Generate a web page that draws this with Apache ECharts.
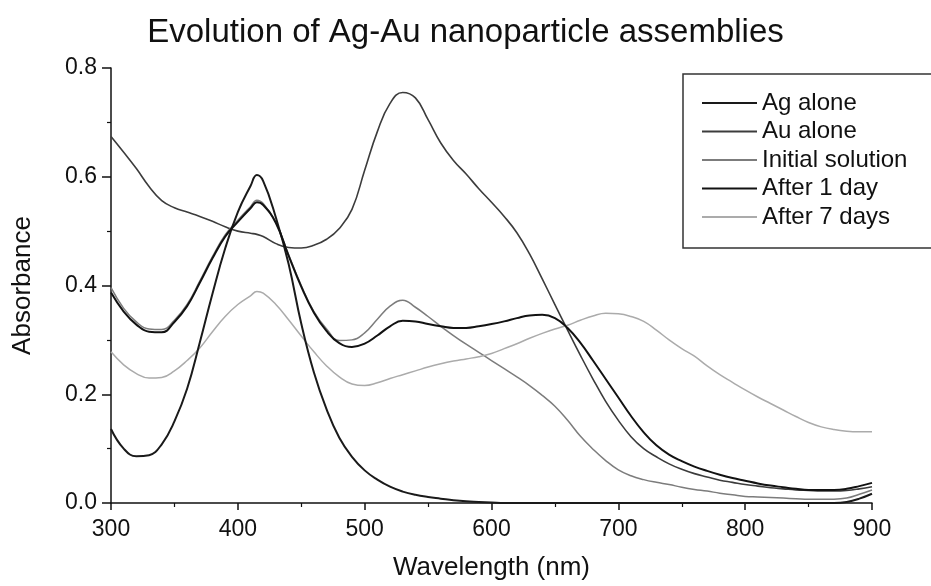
<!DOCTYPE html>
<html><head><meta charset="utf-8">
<script src="https://cdn.jsdelivr.net/npm/echarts@6/dist/echarts.min.js"></script>
<style>html,body{margin:0;padding:0;background:#fff}#c{width:931px;height:586px}</style>
</head><body><div id="c"></div>
<script>
const wavelengths = [300,310,320,330,340,350,360,370,380,390,400,410,415,420,430,440,450,460,470,480,490,500,510,520,530,540,550,560,570,580,590,600,610,620,630,640,650,660,670,680,690,700,710,720,730,740,750,760,770,780,790,800,810,820,830,840,850,860,870,880,890,900];
const agAlone = [0.136,0.100,0.086,0.088,0.108,0.150,0.210,0.295,0.385,0.468,0.535,0.583,0.603,0.592,0.525,0.440,0.330,0.240,0.172,0.120,0.085,0.060,0.043,0.030,0.021,0.015,0.011,0.008,0.005,0.003,0.002,0.001,0,0,0,0,0,0,0,0,0,0,0,0,0,0,0,0,0,0,0,0,0,0,0,0,0,0,0,0.002,0.008,0.017];
const auAlone = [0.674,0.645,0.615,0.582,0.556,0.543,0.535,0.527,0.518,0.508,0.500,0.496,0.494,0.490,0.477,0.470,0.469,0.474,0.485,0.505,0.540,0.612,0.683,0.735,0.755,0.745,0.705,0.662,0.630,0.605,0.578,0.553,0.527,0.497,0.458,0.412,0.365,0.318,0.272,0.228,0.187,0.152,0.122,0.100,0.085,0.072,0.062,0.054,0.048,0.042,0.038,0.034,0.031,0.028,0.026,0.024,0.023,0.022,0.022,0.023,0.026,0.030];
const initialSolution = [0.396,0.358,0.333,0.320,0.319,0.336,0.365,0.408,0.453,0.493,0.520,0.545,0.557,0.551,0.516,0.457,0.400,0.352,0.320,0.299,0.300,0.313,0.338,0.362,0.373,0.360,0.343,0.325,0.308,0.292,0.277,0.262,0.247,0.232,0.216,0.198,0.178,0.152,0.123,0.099,0.078,0.061,0.050,0.043,0.038,0.034,0.029,0.025,0.022,0.018,0.015,0.012,0.011,0.010,0.009,0.008,0.007,0.007,0.007,0.009,0.016,0.024];
const after1Day = [0.387,0.352,0.328,0.315,0.314,0.333,0.362,0.405,0.450,0.490,0.517,0.542,0.553,0.548,0.515,0.455,0.398,0.350,0.316,0.294,0.287,0.293,0.308,0.325,0.335,0.334,0.329,0.325,0.322,0.322,0.325,0.329,0.334,0.340,0.345,0.346,0.340,0.322,0.295,0.262,0.228,0.194,0.160,0.130,0.106,0.089,0.077,0.067,0.059,0.052,0.046,0.041,0.036,0.032,0.029,0.026,0.024,0.024,0.024,0.026,0.031,0.037];
const after7Days = [0.278,0.254,0.238,0.230,0.231,0.243,0.262,0.285,0.315,0.343,0.365,0.381,0.389,0.386,0.365,0.337,0.307,0.278,0.252,0.232,0.219,0.216,0.221,0.229,0.236,0.243,0.250,0.256,0.261,0.265,0.269,0.275,0.284,0.293,0.303,0.312,0.320,0.327,0.336,0.344,0.349,0.348,0.343,0.334,0.318,0.300,0.284,0.270,0.252,0.236,0.222,0.208,0.195,0.183,0.171,0.159,0.148,0.140,0.135,0.132,0.131,0.131];
const seriesNames = ['Ag alone','Au alone','Initial solution','After 1 day','After 7 days'];
const titleText = 'Evolution of Ag-Au nanoparticle assemblies';
const xAxisName = 'Wavelength (nm)';
const yAxisName = 'Absorbance';

const FONT = '"Liberation Sans", Arial, sans-serif';
const seriesData = [agAlone, auAlone, initialSolution, after1Day, after7Days];
const colors = ['#1a1a1a', '#3c3c3c', '#7c7c7c', '#121212', '#ababab'];
const widths = [2, 1.6, 1.5, 2, 1.5];

const chart = echarts.init(document.getElementById('c'), null, {renderer: 'canvas'});
chart.setOption({
  animation: false,
  backgroundColor: '#fff',
  textStyle: {fontFamily: FONT},
  title: {
    text: titleText,
    left: 'center',
    top: 16,
    padding: [0, 36, 0, 5],
    textStyle: {fontSize: 33, fontWeight: 'normal', color: '#111', fontFamily: FONT}
  },
  legend: {
    orient: 'vertical',
    left: 683,
    top: 74,
    padding: [17, 60, 19, 18],
    itemWidth: 55,
    itemHeight: 14,
    itemGap: 4.5,
    itemTextGap: 8,
    borderColor: '#333',
    borderWidth: 1.5,
    itemStyle: {opacity: 0},
    textStyle: {fontSize: 24, color: '#111', lineHeight: 24, fontFamily: FONT},
    data: seriesNames
  },
  grid: {left: 111, right: 59, top: 68, bottom: 82, containLabel: false},
  xAxis: {
    type: 'value', min: 300, max: 900, interval: 100,
    name: xAxisName, nameLocation: 'middle', nameGap: 52,
    nameTextStyle: {fontSize: 26, color: '#111', fontFamily: FONT},
    axisLine: {show: true, onZero: false, lineStyle: {color: '#111', width: 1.5}},
    axisTick: {show: true, inside: false, length: 7, lineStyle: {color: '#111', width: 1.5}},
    minorTick: {show: true, splitNumber: 2, length: 4, lineStyle: {color: '#111', width: 1.2}},
    axisLabel: {fontSize: 23, color: '#111', margin: 15, fontFamily: FONT},
    splitLine: {show: false}
  },
  yAxis: {
    type: 'value', min: 0, max: 0.8, interval: 0.2,
    name: yAxisName, nameLocation: 'middle', nameGap: 75, nameRotate: 90,
    nameTextStyle: {fontSize: 26, color: '#111', fontFamily: FONT},
    axisLine: {show: true, onZero: false, lineStyle: {color: '#111', width: 1.5}},
    axisTick: {show: true, inside: false, length: 9, lineStyle: {color: '#111', width: 1.5}},
    minorTick: {show: true, splitNumber: 2, length: 4, lineStyle: {color: '#111', width: 1.2}},
    axisLabel: {fontSize: 23, color: '#111', margin: 14, fontFamily: FONT, formatter: v => v.toFixed(1)},
    splitLine: {show: false}
  },
  series: seriesNames.map((name, i) => ({
    name: name,
    type: 'line',
    symbol: 'none',
    showSymbol: false,
    smooth: 0.45,
    data: wavelengths.map((w, j) => [w, seriesData[i][j]]),
    lineStyle: {color: colors[i], width: widths[i]},
    itemStyle: {color: colors[i]},
    z: 2 + (i === 0 || i === 3 ? 1 : 0)
  }))
});
</script>
</body></html>
